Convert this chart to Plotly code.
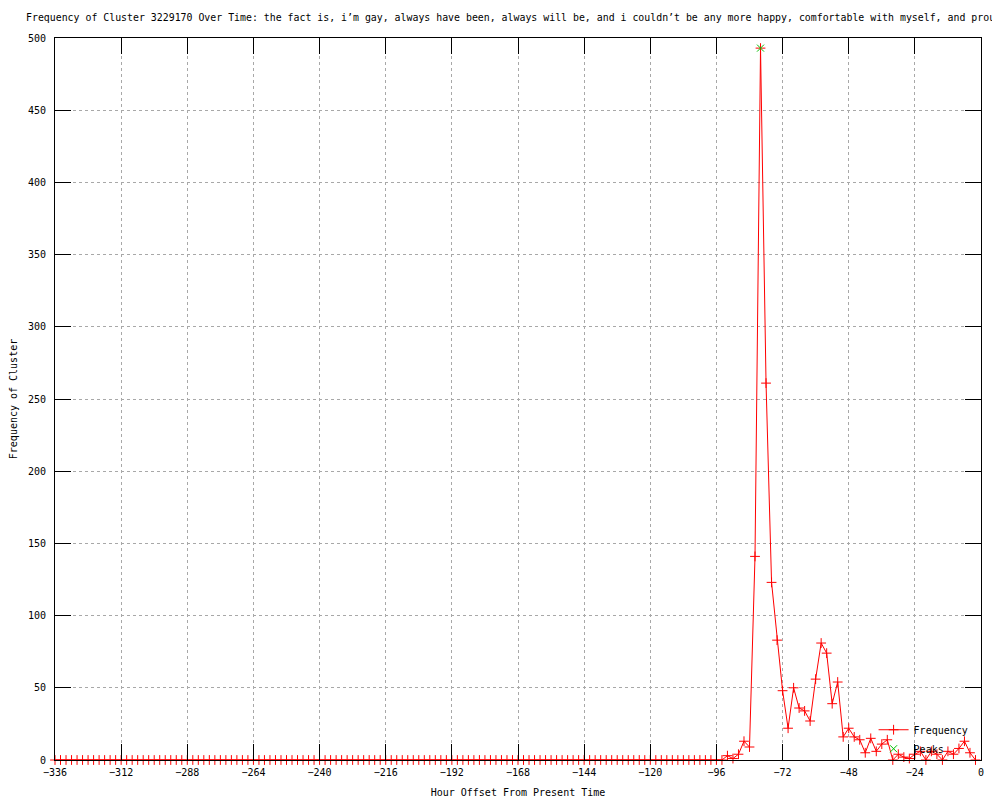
import plotly.graph_objects as go

# Hour offsets (every 2 hours, from -336 to -2)
hours = list(range(-336, 0, 2))

# Frequency of cluster at each hour offset
frequency = [
    0, 0, 0, 0, 0, 0, 0, 0, 0, 0, 0, 0, 0, 0, 0, 0, 0, 0, 0, 0,
    0, 0, 0, 0, 0, 0, 0, 0, 0, 0, 0, 0, 0, 0, 0, 0, 0, 0, 0, 0,
    0, 0, 0, 0, 0, 0, 0, 0, 0, 0, 0, 0, 0, 0, 0, 0, 0, 0, 0, 0,
    0, 0, 0, 0, 0, 0, 0, 0, 0, 0, 0, 0, 0, 0, 0, 0, 0, 0, 0, 0,
    0, 0, 0, 0, 0, 0, 0, 0, 0, 0, 0, 0, 0, 0, 0, 0, 0, 0, 0, 0,
    0, 0, 0, 0, 0, 0, 0, 0, 0, 0, 0, 0, 0, 0, 0, 0, 0, 0, 0, 0,
    0, 0,
    3, 1, 4, 13, 9, 141, 493, 261, 123, 83,
    48, 22, 50, 36, 34, 27, 56, 81, 74, 39,
    54, 16, 22, 16, 14, 5, 15, 6, 11, 14,
    0, 4, 2, 1, 4, 6, 0, 6, 4, 0,
    6, 4, 8, 13, 5, 0,
]

# Detected peaks
peak_hours = [-80]
peak_values = [493]

x_tick_vals = list(range(-336, 1, 24))
y_tick_vals = list(range(0, 501, 50))

title_text = ("Frequency of Cluster 3229170 Over Time: the fact is, i\u2019m gay, always have been, "
              "always will be, and i couldn\u2019t be any more happy, comfortable with myself, and proud")

FONT = "DejaVu Sans Mono"
W, H = 992, 792  # page body has an 8px margin

fig = go.Figure()
fig.add_trace(go.Scatter(
    x=hours, y=frequency, name="Frequency", mode="lines+markers",
    line=dict(color="#ff0000", width=1),
    marker=dict(symbol="cross-thin-open", size=7, color="#ff0000",
                line=dict(color="#ff0000", width=1)),
    cliponaxis=False,
))
fig.add_trace(go.Scatter(
    x=peak_hours, y=peak_values, name="Peaks", mode="markers",
    marker=dict(symbol="x-thin-open", size=7, color="#00c000",
                line=dict(color="#00c000", width=1)),
    cliponaxis=False,
))

axis_common = dict(
    showline=True, linecolor="black", linewidth=1, mirror="ticks",
    ticks="inside", ticklen=16, tickcolor="black", tickwidth=1,
    showgrid=True, gridcolor="#a8a8a8", griddash="dot", gridwidth=1,
    zeroline=False, automargin=False,
    tickfont=dict(family=FONT, size=10, color="black"),
)

fig.update_layout(
    width=W, height=H,
    paper_bgcolor="white", plot_bgcolor="white",
    margin=dict(l=47, r=19, t=30, b=40, autoexpand=False),
    font=dict(family=FONT, size=10, color="black"),
    title=dict(text=title_text, x=18 / W, xref="container", xanchor="left",
               y=1 - 10 / H, yref="container", yanchor="middle",
               pad=dict(l=0, r=0, t=0, b=0),
               font=dict(family=FONT, size=9.9, color="black")),
    showlegend=True,
    legend=dict(x=0.992, y=0.062, xanchor="right", yanchor="top",
                bgcolor="rgba(0,0,0,0)", font=dict(family=FONT, size=10),
                itemwidth=30, tracegroupgap=0),
    xaxis=dict(range=[-336, 0], tickvals=x_tick_vals, ticklabelstandoff=3,
               title=dict(text="Hour Offset From Present Time", standoff=11,
                          font=dict(family=FONT, size=10)),
               **axis_common),
    yaxis=dict(range=[0, 500], tickvals=y_tick_vals, ticklabelstandoff=6,
               title=dict(text="Frequency of Cluster", standoff=10,
                          font=dict(family=FONT, size=10)),
               **axis_common),
)

fig.write_html("out.html")
